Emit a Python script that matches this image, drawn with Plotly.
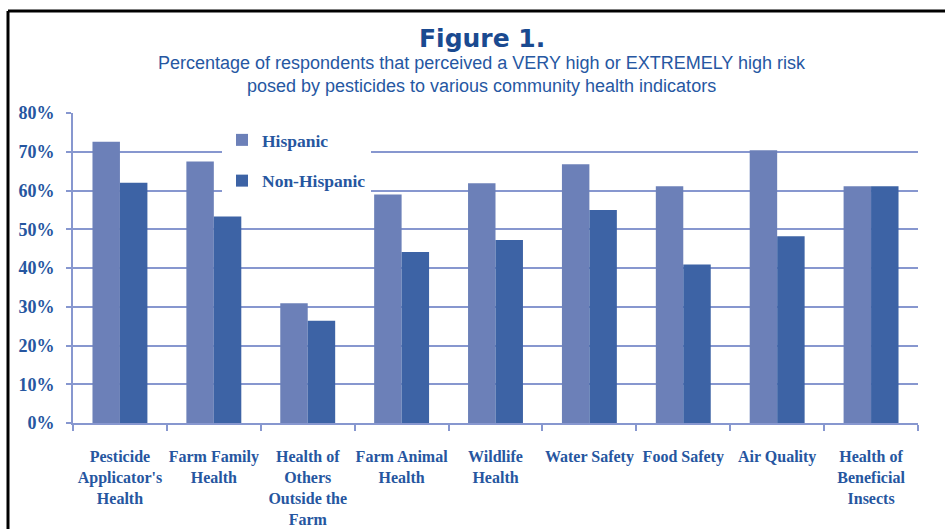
import plotly.graph_objects as go

categories = [
    "Pesticide<br>Applicator's<br>Health",
    "Farm Family<br>Health",
    "Health of<br>Others<br>Outside the<br>Farm",
    "Farm Animal<br>Health",
    "Wildlife<br>Health",
    "Water Safety",
    "Food Safety",
    "Air Quality",
    "Health of<br>Beneficial<br>Insects",
]
hispanic = [72.6, 67.5, 30.9, 59.0, 61.9, 66.8, 61.1, 70.4, 61.1]
non_hispanic = [62.0, 53.3, 26.4, 44.1, 47.2, 55.0, 40.9, 48.2, 61.1]
y_ticks = [0, 10, 20, 30, 40, 50, 60, 70, 80]
y_tick_labels = ["0%", "10%", "20%", "30%", "40%", "50%", "60%", "70%", "80%"]

W, H = 945, 529
L, R, T, B = 73, 27, 113, 106
pw, ph = W - L - R, H - T - B

def px_x(x):
    return (x - L) / pw

def px_y(y):
    return (H - B - y) / ph

label_blue = "#2656a0"
grid_col = "#8797cf"
serif_bold = "Liberation Serif"

fig = go.Figure()
fig.add_trace(go.Bar(x=categories, y=hispanic, name="Hispanic",
                     marker=dict(color="#6c80b8", line=dict(width=0)),
                     legendgroup="h"))
fig.add_trace(go.Bar(x=categories, y=non_hispanic, name="Non-Hispanic",
                     marker=dict(color="#3d63a5", line=dict(width=0)),
                     legendgroup="nh"))

fig.update_layout(
    width=W, height=H,
    margin=dict(l=L, r=R, t=T, b=B, autoexpand=False),
    paper_bgcolor="white", plot_bgcolor="white",
    barmode="group", bargap=0.415, bargroupgap=0,
    font=dict(family=serif_bold, color=label_blue),
    showlegend=True,
    legend=dict(
        x=px_x(222), y=px_y(122), xanchor="left", yanchor="top",
        bgcolor="white", borderwidth=0,
        font=dict(family=serif_bold, size=17.5, color=label_blue, weight="bold"),
        tracegroupgap=15, itemwidth=30,
    ),
    xaxis=dict(
        showgrid=False, showline=True, linecolor=grid_col, linewidth=2,
        ticks="outside", tickson="boundaries", ticklen=6, tickcolor=grid_col, tickwidth=1.5,
        tickfont=dict(family=serif_bold, size=16, color=label_blue, weight="bold"),
        ticklabelstandoff=18, tickangle=0,
    ),
    yaxis=dict(
        range=[0, 80], tickvals=y_ticks, ticktext=y_tick_labels,
        showgrid=True, gridcolor=grid_col, gridwidth=2,
        showline=True, linecolor=grid_col, linewidth=2,
        ticks="outside", ticklen=5, tickcolor=grid_col, tickwidth=1.5,
        tickfont=dict(family=serif_bold, size=18, color=label_blue, weight="bold"),
        ticklabelstandoff=8, zeroline=False,
    ),
)

fig.add_annotation(
    text="Figure 1.", xref="paper", yref="paper",
    x=px_x(482), y=px_y(38), xanchor="center", yanchor="middle", showarrow=False,
    font=dict(family="DejaVu Sans", size=25, color="#1a4a90", weight="bold"),
)
fig.add_annotation(
    text="Percentage of respondents that perceived a VERY high or EXTREMELY high risk<br>posed by pesticides to various community health indicators",
    xref="paper", yref="paper",
    x=px_x(482), y=px_y(74), xanchor="center", yanchor="middle", showarrow=False,
    font=dict(family="Liberation Sans", size=18, color="#2657a2"),
    align="center",
)

# outer frame (top and left black lines)
fig.add_shape(type="line", xref="paper", yref="paper",
              x0=px_x(8), x1=px_x(W + 5), y0=px_y(11), y1=px_y(11),
              line=dict(color="black", width=3))
fig.add_shape(type="line", xref="paper", yref="paper",
              x0=px_x(8), x1=px_x(8), y0=px_y(11), y1=px_y(H + 5),
              line=dict(color="black", width=3))

fig.write_html("out.html", config={"displayModeBar": False},
               post_script="document.body.style.margin='0';document.body.style.padding='0';")
